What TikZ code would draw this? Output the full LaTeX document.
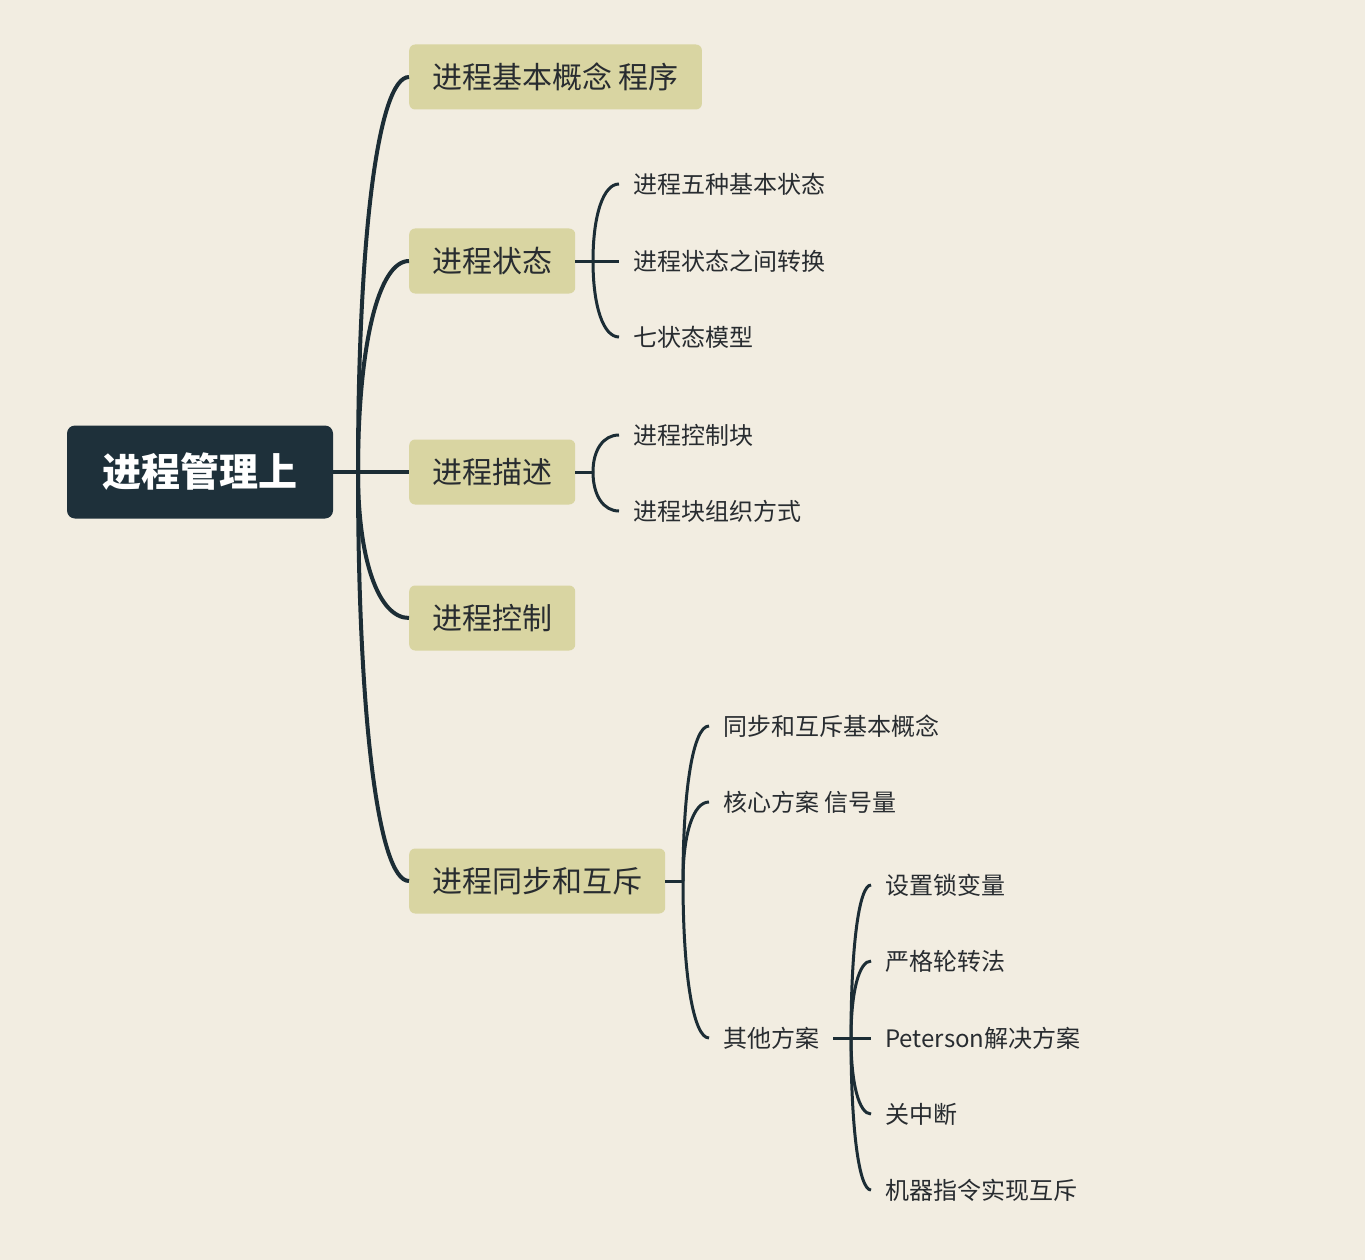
\documentclass[tikz,border=0pt]{standalone}
\usepackage{fontspec}
\setmainfont{Noto Sans CJK SC}
\usetikzlibrary{calc}
\definecolor{paper}{RGB}{242,237,225}
\definecolor{boxc}{RGB}{217,213,162}
\definecolor{rootc}{RGB}{30,48,58}
\definecolor{linec}{RGB}{28,45,53}
\definecolor{txtc}{RGB}{40,44,48}
\newcommand\mmbranch[3][conn]{\draw[#1] (#2) .. controls ($(#2)!0.6!(#2 |- #3)$) and ($(#3)!0.6!(#2 |- #3)$) .. (#3);}
\tikzset{
  rootbox/.style={fill=rootc, text=white, rounded corners=8pt, minimum width=266pt, minimum height=93pt, font=\fontsize{39}{44}\selectfont\bfseries},
  lvone/.style={fill=boxc, text=txtc, rounded corners=6pt, inner xsep=23pt, inner ysep=0pt, minimum height=65pt, anchor=west, font=\fontsize{30}{34}\selectfont},
  leaf/.style={text=txtc, inner xsep=14pt, inner ysep=0pt, anchor=west, font=\fontsize{24}{28}\selectfont},
  trunk/.style={draw=linec, line width=4pt},
  conn/.style={draw=linec, line width=3pt}
}
\begin{document}
\begin{tikzpicture}[x=1pt,y=-1pt]
\fill[paper] (0,0) rectangle (1365,1260);
\useasboundingbox (0,0) rectangle (1365,1260);

\node[rootbox] (R) at (200,472) {进程管理上};

\node[lvone] (A) at (409,77) {进程基本概念 程序};
\node[lvone] (B) at (409,261) {进程状态};
\node[lvone] (C) at (409,472) {进程描述};
\node[lvone] (D) at (409,618) {进程控制};
\node[lvone] (E) at (409,881) {进程同步和互斥};

\node[leaf] (B1) at (619,184) {进程五种基本状态};
\node[leaf] (B2) at (619,261) {进程状态之间转换};
\node[leaf] (B3) at (619,337) {七状态模型};

\node[leaf] (C1) at (619,435) {进程控制块};
\node[leaf] (C2) at (619,511) {进程块组织方式};

\node[leaf] (E1) at (709,726) {同步和互斥基本概念};
\node[leaf] (E2) at (709,802) {核心方案 信号量};
\node[leaf] (E3) at (709,1038) {其他方案};

\node[leaf] (F1) at (871,885) {设置锁变量};
\node[leaf] (F2) at (871,961) {严格轮转法};
\node[leaf] (F3) at (871,1038) {Peterson解决方案};
\node[leaf] (F4) at (871,1114) {关中断};
\node[leaf] (F5) at (871,1190) {机器指令实现互斥};

\coordinate (j0) at (358,472);
\coordinate (jB) at (593,261);
\coordinate (jC) at (593,472);
\coordinate (jE) at (683,881);
\coordinate (jF) at (851,1038);

\draw[trunk] (R.east) -- (j0);
\mmbranch[trunk]{j0}{A.west}
\mmbranch[trunk]{j0}{B.west}
\mmbranch[trunk]{j0}{C.west}
\mmbranch[trunk]{j0}{D.west}
\mmbranch[trunk]{j0}{E.west}

\draw[conn] (B.east) -- (jB);
\mmbranch{jB}{B1.west}
\mmbranch{jB}{B2.west}
\mmbranch{jB}{B3.west}

\draw[conn] (C.east) -- (jC);
\mmbranch{jC}{C1.west}
\mmbranch{jC}{C2.west}

\draw[conn] (E.east) -- (jE);
\mmbranch{jE}{E1.west}
\mmbranch{jE}{E2.west}
\mmbranch{jE}{E3.west}

\draw[conn] (E3.east) -- (jF);
\mmbranch{jF}{F1.west}
\mmbranch{jF}{F2.west}
\mmbranch{jF}{F3.west}
\mmbranch{jF}{F4.west}
\mmbranch{jF}{F5.west}
\end{tikzpicture}
\end{document}
